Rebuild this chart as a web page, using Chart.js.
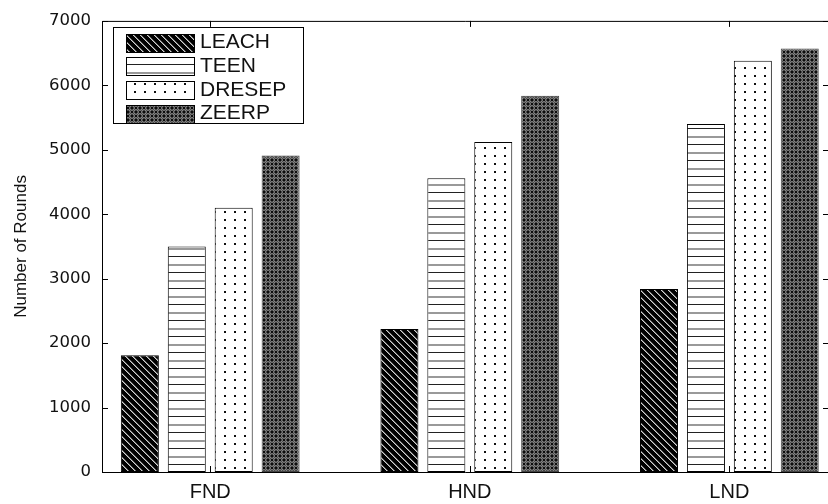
<!DOCTYPE html>
<html>
<head>
<meta charset="utf-8">
<style>
  html, body { margin: 0; padding: 0; background: #fff; overflow: hidden; }
  #wrap { width: 828px; height: 504px; position: relative; }
</style>
<script src="https://cdn.jsdelivr.net/npm/chart.js@4.4.1/dist/chart.umd.min.js"></script>
</head>
<body>
<div id="wrap"><canvas id="roundsChart"></canvas></div>
<script>
// dados
const categories  = ['FND', 'HND', 'LND'];
const seriesNames = ['LEACH', 'TEEN', 'DRESEP', 'ZEERP'];
const leach  = [1810, 2220, 2840];
const teen   = [3500, 4560, 5400];
const dresep = [4100, 5120, 6380];
const zeerp  = [4910, 5840, 6570];
const yTicks = [0, 1000, 2000, 3000, 4000, 5000, 6000, 7000];

function makePattern(w, h, draw) {
  const c = document.createElement('canvas');
  c.width = w; c.height = h;
  const g = c.getContext('2d');
  draw(g, w, h);
  return g.createPattern(c, 'repeat');
}

// hachuras estilo MATLAB
const patLeach = makePattern(7, 7, (g, w) => {
  g.fillStyle = '#000'; g.fillRect(0, 0, w, w);
  for (let i = 0; i < w; i++) {
    g.fillStyle = '#d0d0d0'; g.fillRect(i, i, 1, 1);
    g.fillStyle = '#6a6a6a'; g.fillRect((i + 1) % w, i, 1, 1);
  }
});
const patTeen = makePattern(4, 16, (g) => {
  g.fillStyle = '#fff'; g.fillRect(0, 0, 4, 16);
  g.fillStyle = '#222'; g.fillRect(0, 0, 4, 1);
  g.fillStyle = '#999'; g.fillRect(0, 8, 4, 2);
});
const patDresep = makePattern(10, 8, (g) => {
  g.fillStyle = '#fff'; g.fillRect(0, 0, 10, 8);
  g.fillStyle = '#111'; g.fillRect(4, 3, 2, 2);
});
const patZeerp = makePattern(8, 8, (g) => {
  g.fillStyle = '#0d0d0d'; g.fillRect(0, 0, 8, 8);
  g.strokeStyle = '#b0b0b0'; g.lineWidth = 1;
  [[4, 4], [0, 0], [8, 0], [0, 8], [8, 8]].forEach(([cx, cy]) => {
    g.beginPath(); g.arc(cx, cy, 2.3, 0, Math.PI * 2); g.stroke();
  });
});

const fills = [patLeach, patTeen, patDresep, patZeerp];
const values = [leach, teen, dresep, zeerp];

const framePlugin = {
  id: 'frame',
  afterDatasetsDraw(chart) {
    const { ctx, chartArea: a, scales: { x, y } } = chart;
    ctx.save();
    ctx.strokeStyle = '#000';
    ctx.lineWidth = 1;
    ctx.beginPath();
    // moldura (a linha da direita fica fora da imagem)
    ctx.moveTo(a.right, a.top + 0.5);
    ctx.lineTo(a.left + 0.5, a.top + 0.5);
    ctx.lineTo(a.left + 0.5, a.bottom + 0.5);
    ctx.lineTo(a.right, a.bottom + 0.5);
    // ticks para dentro
    yTicks.forEach(v => {
      const py = Math.round(y.getPixelForValue(v)) + 0.5;
      ctx.moveTo(a.left, py); ctx.lineTo(a.left + 6, py);
      ctx.moveTo(a.right - 5, py); ctx.lineTo(a.right, py);
    });
    categories.forEach((_, i) => {
      const px = Math.round(x.getPixelForValue(i + 1)) + 0.5;
      ctx.moveTo(px, a.top); ctx.lineTo(px, a.top + 6);
      ctx.moveTo(px, a.bottom); ctx.lineTo(px, a.bottom - 6);
    });
    ctx.stroke();

    // legenda dentro do gráfico
    const box = { x: 113.5, y: 27.5, w: 190, h: 96 };
    ctx.fillStyle = '#fff';
    ctx.fillRect(box.x, box.y, box.w, box.h);
    ctx.strokeRect(box.x, box.y, box.w, box.h);
    ctx.font = '21px "Liberation Sans", Arial, sans-serif';
    ctx.textBaseline = 'middle';
    seriesNames.forEach((name, i) => {
      const cy = 42.5 + i * 23.7;
      const sy = Math.round(cy - 9) + 0.5;
      ctx.fillStyle = fills[i];
      ctx.fillRect(126.5, sy, 68, 18);
      ctx.strokeRect(126.5, sy, 68, 18);
      ctx.fillStyle = '#111';
      ctx.fillText(name, 200, cy);
    });
    ctx.restore();
  }
};

new Chart(document.getElementById('roundsChart'), {
  type: 'bar',
  data: {
    labels: categories.map((_, i) => i + 1),
    datasets: seriesNames.map((name, i) => ({
      label: name,
      data: values[i],
      backgroundColor: fills[i],
      borderColor: i === 3 ? '#444' : '#000',
      borderWidth: 1,
      borderSkipped: false
    }))
  },
  options: {
    responsive: true,
    maintainAspectRatio: false,
    animation: false,
    categoryPercentage: 0.723,
    barPercentage: 0.81,
    layout: { padding: { top: 17, right: 0, left: 0, bottom: 0 } },
    plugins: {
      legend: { display: false },
      tooltip: { enabled: false }
    },
    scales: {
      x: {
        type: 'linear',
        offset: false,
        min: 0.583,
        max: 3.38,
        grid: { display: false, drawTicks: false, offset: false },
        border: { display: false },
        afterBuildTicks: s => { s.ticks = categories.map((_, i) => ({ value: i + 1 })); },
        afterFit: s => { s.height = 32; },
        ticks: {
          padding: 8,
          color: '#111',
          maxRotation: 0,
          autoSkip: false,
          font: { family: '"Liberation Sans", Arial, sans-serif', size: 20 },
          callback: v => categories[v - 1] || ''
        }
      },
      y: {
        min: 0,
        max: 7000,
        grid: { display: false, drawTicks: false },
        border: { display: false },
        afterBuildTicks: s => { s.ticks = yTicks.map(v => ({ value: v })); },
        afterFit: s => { s.width = 102; },
        ticks: {
          padding: 11,
          color: '#111',
          font: { family: '"DejaVu Sans", sans-serif', size: 16.5 },
          callback: v => String(v)
        },
        title: {
          display: true,
          text: 'Number of Rounds',
          color: '#111',
          padding: { top: 11, bottom: 0 },
          font: { family: '"Liberation Sans", Arial, sans-serif', size: 17 }
        }
      }
    }
  },
  plugins: [framePlugin]
});
</script>
</body>
</html>
